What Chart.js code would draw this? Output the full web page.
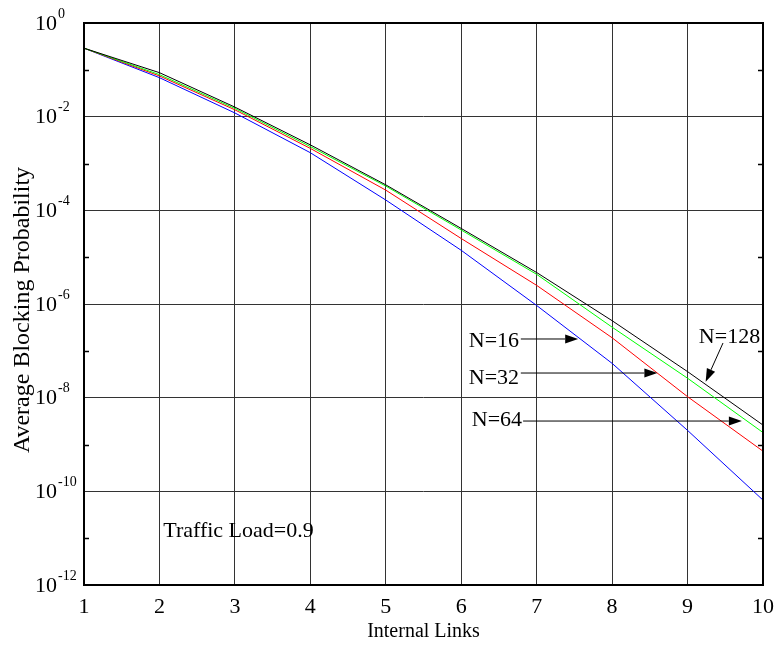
<!DOCTYPE html>
<html lang="en">
<head>
  <meta charset="UTF-8" />
  <title>Average Blocking Probability</title>
  <script src="https://cdn.jsdelivr.net/npm/chart.js"></script>
  <style>
    html, body { margin: 0; padding: 0; background: #ffffff; }
    #wrap { width: 776px; height: 646px; }
  </style>
</head>
<body>
  <div id="wrap"><canvas id="chart" width="776" height="646"></canvas></div>

<script>
  // internal links (x axis)
  const links = [1, 2, 3, 4, 5, 6, 7, 8, 9, 10];

  // average blocking probability
  const n128 = [2.9e-1, 8.7e-2, 1.6e-2, 2.5e-3, 3.5e-4, 4.1e-5, 4.7e-6, 4.4e-7, 3.6e-8, 2.6e-9];
  const n64  = [2.9e-1, 7.9e-2, 1.5e-2, 2.3e-3, 3.3e-4, 3.8e-5, 4.3e-6, 3.2e-7, 2.6e-8, 1.8e-9];
  const n32  = [2.9e-1, 7.4e-2, 1.4e-2, 2.1e-3, 2.7e-4, 2.5e-5, 2.5e-6, 1.9e-7, 1.05e-8, 7.2e-10];
  const n16  = [2.9e-1, 6.8e-2, 1.2e-2, 1.7e-3, 1.66e-4, 1.4e-5, 9.3e-7, 5.4e-8, 2.0e-9, 6.5e-11];

  // y axis decades (labels on even ones)
  const yExps = [-12, -11, -10, -9, -8, -7, -6, -5, -4, -3, -2, -1, 0];

  // callouts, in data units
  const notes = [
    { text: 'N=16',  tx: 6.10, ty: 1.62e-7, from: [6.79, 1.79e-7], to: [7.55, 1.79e-7] },
    { text: 'N=32',  tx: 6.10, ty: 2.56e-8, from: [6.79, 3.36e-8], to: [8.60, 3.36e-8] },
    { text: 'N=64',  tx: 6.14, ty: 3.33e-9, from: [6.82, 3.17e-9], to: [9.72, 3.17e-9] },
    { text: 'N=128', tx: 9.15, ty: 1.97e-7, from: [9.47, 1.47e-7], to: [9.24, 2.19e-8] },
    { text: 'Traffic Load=0.9', tx: 2.05, ty: 1.42e-11 }
  ];

  const serif = "'Liberation Serif', 'DejaVu Serif', serif";

  function pts(arr) {
    return links.map((x, i) => ({ x: x, y: arr[i] }));
  }

  function arrow(ctx, x0, y0, x1, y1) {
    const ang = Math.atan2(y1 - y0, x1 - x0);
    const len = 13, half = 4.5;
    ctx.beginPath();
    ctx.moveTo(x0, y0);
    ctx.lineTo(x1 - Math.cos(ang) * len, y1 - Math.sin(ang) * len);
    ctx.stroke();
    ctx.beginPath();
    ctx.moveTo(x1, y1);
    ctx.lineTo(x1 - Math.cos(ang) * len - Math.sin(ang) * half, y1 - Math.sin(ang) * len + Math.cos(ang) * half);
    ctx.lineTo(x1 - Math.cos(ang) * len + Math.sin(ang) * half, y1 - Math.sin(ang) * len - Math.cos(ang) * half);
    ctx.closePath();
    ctx.fill();
  }

  const decor = {
    id: 'decor',
    afterDraw(chart) {
      const ctx = chart.ctx;
      const a = chart.chartArea;
      const xs = chart.scales.x, ys = chart.scales.y;
      ctx.save();

      // frame
      ctx.strokeStyle = '#000';
      ctx.lineWidth = 2;
      ctx.strokeRect(a.left, a.top, a.right - a.left, a.bottom - a.top);

      // minor ticks on odd decades
      ctx.lineWidth = 1.5;
      yExps.forEach(e => {
        if (e % 2 === 0) return;
        const py = Math.round(ys.getPixelForValue(Math.pow(10, e))) + 0.5;
        ctx.beginPath();
        ctx.moveTo(a.left, py); ctx.lineTo(a.left + 5, py);
        ctx.moveTo(a.right - 5, py); ctx.lineTo(a.right, py);
        ctx.stroke();
      });

      // y tick labels 10^e
      ctx.fillStyle = '#000';
      ctx.textBaseline = 'middle';
      ctx.textAlign = 'left';
      yExps.forEach(e => {
        if (e % 2 !== 0) return;
        const py = ys.getPixelForValue(Math.pow(10, e));
        ctx.font = '22px ' + serif;
        ctx.fillText('10', 35, py + 1);
        const w = ctx.measureText('10').width;
        ctx.font = '14px ' + serif;
        ctx.fillText(String(e), 35 + w + 1, py - 9);
      });

      // y title
      ctx.save();
      ctx.translate(23, 310);
      ctx.rotate(-Math.PI / 2);
      ctx.textAlign = 'center';
      ctx.font = '24px ' + serif;
      ctx.fillText('Average Blocking Probability', 0, 0);
      ctx.restore();

      // callouts
      ctx.font = '22px ' + serif;
      ctx.textAlign = 'left';
      ctx.lineWidth = 1;
      notes.forEach(n => {
        ctx.fillText(n.text, xs.getPixelForValue(n.tx), ys.getPixelForValue(n.ty));
        if (n.from) {
          arrow(ctx,
            xs.getPixelForValue(n.from[0]), ys.getPixelForValue(n.from[1]),
            xs.getPixelForValue(n.to[0]), ys.getPixelForValue(n.to[1]));
        }
      });
      ctx.restore();
    }
  };

  new Chart(document.getElementById('chart'), {
    type: 'line',
    data: {
      datasets: [
        { label: 'N=128', data: pts(n128), borderColor: '#000000' },
        { label: 'N=64',  data: pts(n64),  borderColor: '#00ff00' },
        { label: 'N=32',  data: pts(n32),  borderColor: '#ff0000' },
        { label: 'N=16',  data: pts(n16),  borderColor: '#0000ff' }
      ]
    },
    options: {
      responsive: false,
      animation: false,
      devicePixelRatio: 1,
      layout: { padding: { left: 0, right: 13, top: 23, bottom: 0 } },
      elements: {
        line: { borderWidth: 1, tension: 0, fill: false },
        point: { radius: 0 }
      },
      plugins: { legend: { display: false }, tooltip: { enabled: false } },
      scales: {
        x: {
          type: 'linear',
          min: 1,
          max: 10,
          ticks: {
            stepSize: 1,
            color: '#000',
            padding: 9,
            font: { family: serif, size: 22 }
          },
          grid: { color: '#333', lineWidth: 1, drawTicks: false },
          border: { display: false },
          title: {
            display: true,
            text: 'Internal Links',
            color: '#000',
            font: { family: serif, size: 20 },
            padding: { top: 0, bottom: 2 }
          },
          afterFit(s) {
            s.height = 61;
            s.paddingLeft = 0;
            s.paddingRight = 0;
          }
        },
        y: {
          type: 'logarithmic',
          min: 1e-12,
          max: 1,
          ticks: { display: false },
          grid: {
            lineWidth: 1,
            drawTicks: false,
            color: c => {
              const e = Math.round(Math.log10(c.tick.value));
              return e % 2 === 0 ? '#333' : 'rgba(0,0,0,0)';
            }
          },
          border: { display: false },
          afterBuildTicks(s) {
            s.ticks = yExps.map(e => ({ value: Math.pow(10, e) }));
          },
          afterFit(s) {
            s.width = 84;
            s.paddingTop = 0;
            s.paddingBottom = 0;
          }
        }
      }
    },
    plugins: [decor]
  });
</script>
</body>
</html>
